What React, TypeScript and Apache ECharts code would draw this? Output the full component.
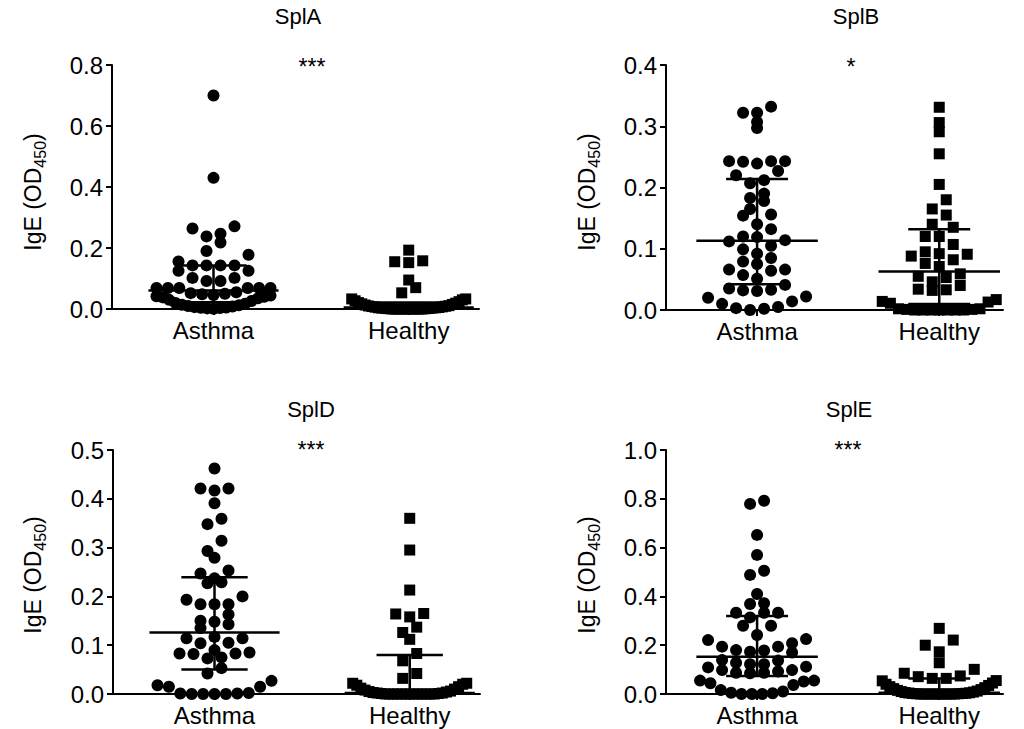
import React, { useEffect, useRef } from "react";
import * as echarts from "echarts";

const groupNames = ["Asthma", "Healthy"];

const splA_asthma = [0.7, 0.43, 0.271, 0.264, 0.247, 0.238, 0.218, 0.19, 0.178, 0.156, 0.143, 0.143, 0.143, 0.143, 0.125, 0.125, 0.102, 0.102, 0.092, 0.092, 0.069, 0.069, 0.069, 0.069, 0.069, 0.069, 0.055, 0.052, 0.05, 0.048, 0.046, 0.044, 0.042, 0.04, 0.038, 0.035, 0.03, 0.026, 0.02, 0.017, 0.014, 0.012, 0.01, 0.008, 0.006, 0.005, 0.004, 0.003, 0.002, 0.001];
const splA_healthy = [0.193, 0.158, 0.155, 0.152, 0.095, 0.07, 0.053, 0.033, 0.033, 0.03, 0.027, 0.024, 0.021, 0.019, 0.017, 0.015, 0.013, 0.011, 0.01, 0.009, 0.008, 0.007, 0.006, 0.005, 0.004, 0.004, 0.003, 0.003, 0.002, 0.002, 0.001, 0.001, 0, 0, 0, 0, 0, 0, 0, 0, 0, 0];

const splB_asthma = [0.332, 0.322, 0.322, 0.307, 0.297, 0.243, 0.243, 0.239, 0.242, 0.243, 0.227, 0.22, 0.207, 0.212, 0.19, 0.183, 0.178, 0.165, 0.154, 0.156, 0.14, 0.132, 0.119, 0.112, 0.114, 0.12, 0.105, 0.092, 0.099, 0.085, 0.075, 0.079, 0.066, 0.057, 0.064, 0.066, 0.051, 0.035, 0.032, 0.031, 0.033, 0.041, 0.02, 0.01, 0.003, 0.0, 0.002, 0.005, 0.014, 0.022];
const splB_healthy = [0.331, 0.306, 0.291, 0.255, 0.205, 0.18, 0.165, 0.155, 0.14, 0.135, 0.12, 0.12, 0.107, 0.092, 0.088, 0.091, 0.095, 0.076, 0.082, 0.071, 0.053, 0.059, 0.055, 0.04, 0.033, 0.032, 0.034, 0.046, 0.017, 0.013, 0.002, 0.011, 0.014, 0, 0, 0, 0, 0, 0, 0, 0.001, 0.001, 0.002];

const splD_asthma = [0.462, 0.421, 0.417, 0.421, 0.391, 0.359, 0.348, 0.314, 0.293, 0.279, 0.253, 0.247, 0.237, 0.227, 0.229, 0.193, 0.2, 0.184, 0.184, 0.184, 0.163, 0.148, 0.15, 0.143, 0.135, 0.114, 0.114, 0.117, 0.105, 0.104, 0.085, 0.083, 0.075, 0.082, 0.073, 0.083, 0.09, 0.053, 0.042, 0.027, 0.015, 0.015, 0.018, 0.002, 0.001, 0.001, 0, 0, 0, 0];
const splD_healthy = [0.36, 0.295, 0.213, 0.165, 0.158, 0.164, 0.137, 0.126, 0.112, 0.083, 0.068, 0.042, 0.032, 0.022, 0.022, 0.02, 0.018, 0.015, 0.012, 0.01, 0.008, 0.006, 0.005, 0.004, 0.003, 0.002, 0.002, 0.001, 0.001, 0, 0, 0, 0, 0, 0, 0, 0, 0, 0, 0, 0, 0];

const splE_asthma = [0.792, 0.779, 0.652, 0.57, 0.488, 0.505, 0.41, 0.369, 0.372, 0.333, 0.314, 0.333, 0.333, 0.28, 0.28, 0.242, 0.225, 0.208, 0.194, 0.178, 0.17, 0.173, 0.18, 0.194, 0.221, 0.137, 0.122, 0.109, 0.098, 0.092, 0.087, 0.085, 0.087, 0.098, 0.112, 0.122, 0.128, 0.139, 0.055, 0.044, 0.016, 0.005, 0, 0, 0, 0.003, 0.01, 0.037, 0.051, 0.055];
const splE_healthy = [0.269, 0.221, 0.2, 0.173, 0.128, 0.101, 0.074, 0.064, 0.064, 0.071, 0.085, 0.055, 0.054, 0.045, 0.04, 0.035, 0.03, 0.026, 0.022, 0.018, 0.015, 0.012, 0.01, 0.008, 0.006, 0.005, 0.004, 0.003, 0.002, 0.002, 0.001, 0.001, 0, 0, 0, 0, 0, 0, 0, 0, 0, 0];

// [median, Q1, Q3]
const splA_stats = [[0.061, 0.022, 0.143], [0.005, 0.0, 0.021]];
const splB_stats = [[0.113, 0.042, 0.214], [0.063, 0.01, 0.132]];
const splD_stats = [[0.126, 0.05, 0.239], [0.002, 0.0, 0.08]];
const splE_stats = [[0.153, 0.074, 0.32], [0.005, 0.0, 0.064]];

const titles = ["SplA", "SplB", "SplD", "SplE"];
const significance = ["***", "*", "***", "***"];
const yMaxes = [0.8, 0.4, 0.5, 1.0];
const ySteps = [0.2, 0.1, 0.1, 0.2];

const panelData = [
  { asthma: splA_asthma, healthy: splA_healthy, stats: splA_stats },
  { asthma: splB_asthma, healthy: splB_healthy, stats: splB_stats },
  { asthma: splD_asthma, healthy: splD_healthy, stats: splD_stats },
  { asthma: splE_asthma, healthy: splE_healthy, stats: splE_stats },
];

// layout (pixels)
const FONT = "Liberation Sans";
const grids = [
  { left: 112, top: 65, width: 367, height: 244, xMin: 0.48, xMax: 2.36 },
  { left: 666, top: 65, width: 337, height: 245, xMin: 0.5, xMax: 2.35 },
  { left: 113, top: 450, width: 367, height: 244, xMin: 0.48, xMax: 2.36 },
  { left: 666, top: 450, width: 337, height: 244, xMin: 0.5, xMax: 2.35 },
];
const titlePos = [[298, 16], [856, 16], [311, 409], [849, 409]];
const starPos = [[312, 67], [851, 67], [311, 450], [848, 450]];
const yNamePos = [[33, 192], [587, 192], [33, 575], [587, 575]];

const ROW_PX = 14;
const STEP_PX = 14;
const MAX_HALF_PX = 57;

function swarm(values: number[], center: number, pxX: number, pxY: number) {
  const rows = new Map<number, number[]>();
  values.forEach((v) => {
    const r = Math.floor((v * pxY) / ROW_PX + 1e-9);
    if (!rows.has(r)) rows.set(r, []);
    rows.get(r)!.push(v);
  });
  const out: number[][] = [];
  rows.forEach((list) => {
    list.sort((a, b) => a - b);
    const n = list.length;
    const s = n > 1 ? Math.min(STEP_PX, (2 * MAX_HALF_PX) / (n - 1)) : 0;
    list.forEach((v, k) => {
      let slot: number;
      if (n % 2 === 1) slot = k === 0 ? 0 : k % 2 === 1 ? -Math.ceil(k / 2) : Math.ceil(k / 2);
      else slot = (k % 2 === 0 ? -1 : 1) * (Math.floor(k / 2) + 0.5);
      out.push([center + (slot * s) / pxX, v]);
    });
  });
  return out;
}

export default function App() {
  const ref = useRef<HTMLDivElement>(null);
  useEffect(() => {
    if (!ref.current) return;
    const chart = echarts.init(ref.current, undefined, { renderer: "svg" });
    const grid: any[] = [];
    const xAxis: any[] = [];
    const yAxis: any[] = [];
    const series: any[] = [];
    const graphic: any[] = [];
    grids.forEach((g, i) => {
      grid.push({ left: g.left, top: g.top, width: g.width, height: g.height });
      xAxis.push({
        type: "value",
        gridIndex: i,
        min: g.xMin,
        max: g.xMax,
        axisLine: { show: true, onZero: false, lineStyle: { color: "#000", width: 2 } },
        axisTick: { show: true, customValues: [1, 2], length: 6, lineStyle: { color: "#000", width: 2 } },
        axisLabel: {
          customValues: [1, 2],
          formatter: (v: number) => groupNames[Math.round(v) - 1] || "",
          color: "#000",
          fontSize: 24,
          fontFamily: FONT,
          margin: 9,
        },
        splitLine: { show: false },
      });
      yAxis.push({
        type: "value",
        gridIndex: i,
        min: 0,
        max: yMaxes[i],
        interval: ySteps[i],
        axisLine: { show: true, lineStyle: { color: "#000", width: 2 } },
        axisTick: { show: true, length: 6, lineStyle: { color: "#000", width: 2 } },
        axisLabel: {
          formatter: (v: number) => v.toFixed(1),
          color: "#000",
          fontSize: 24,
          fontFamily: FONT,
          margin: 9,
        },
        splitLine: { show: false },
      });
      const pxX = g.width / (g.xMax - g.xMin);
      const pxY = g.height / yMaxes[i];
      const d = panelData[i];
      series.push({
        type: "scatter",
        xAxisIndex: i,
        yAxisIndex: i,
        symbol: "circle",
        symbolSize: 12,
        itemStyle: { color: "#000", opacity: 1 },
        data: swarm(d.asthma, 1, pxX, pxY),
        z: 3,
      });
      series.push({
        type: "scatter",
        xAxisIndex: i,
        yAxisIndex: i,
        symbol: "rect",
        symbolSize: 11,
        itemStyle: { color: "#000", opacity: 1 },
        data: swarm(d.healthy, 2, pxX, pxY),
        z: 3,
      });
      series.push({
        type: "custom",
        xAxisIndex: i,
        yAxisIndex: i,
        z: 4,
        clip: false,
        encode: { x: 0, y: [1, 2, 3] },
        data: d.stats.map((s, k) => [k + 1, s[0], s[1], s[2]]),
        renderItem: (params: any, api: any) => {
          const x = api.value(0);
          const med = api.value(1);
          const q1 = api.value(2);
          const q3 = api.value(3);
          const st = { stroke: "#000", lineWidth: 2.5 };
          const seg = (a: number[], b: number[]) => {
            const p1 = api.coord(a);
            const p2 = api.coord(b);
            return { type: "line", shape: { x1: p1[0], y1: p1[1], x2: p2[0], y2: p2[1] }, style: st };
          };
          return {
            type: "group",
            children: [
              seg([x - 1 / 3, med], [x + 1 / 3, med]),
              seg([x, q1], [x, q3]),
              seg([x - 0.17, q1], [x + 0.17, q1]),
              seg([x - 0.17, q3], [x + 0.17, q3]),
            ],
          };
        },
      });
      graphic.push({
        type: "text",
        x: titlePos[i][0],
        y: titlePos[i][1],
        style: { text: titles[i], fill: "#000", fontSize: 22, fontFamily: FONT, align: "center", verticalAlign: "middle" },
      });
      graphic.push({
        type: "text",
        x: starPos[i][0],
        y: starPos[i][1],
        style: { text: significance[i], fill: "#000", fontSize: 23, fontFamily: FONT, align: "center", verticalAlign: "middle" },
      });
      graphic.push({
        type: "text",
        x: yNamePos[i][0],
        y: yNamePos[i][1],
        rotation: Math.PI / 2,
        style: {
          text: "{a|IgE (OD}{b|450}{a|)}",
          align: "center",
          verticalAlign: "middle",
          rich: {
            a: { fill: "#000", fontSize: 23, fontFamily: FONT },
            b: { fill: "#000", fontSize: 16, fontFamily: FONT, padding: [14, 0, 0, 0] },
          },
        },
      });
    });
    chart.setOption({
      animation: false,
      backgroundColor: "#fff",
      grid,
      xAxis,
      yAxis,
      series,
      graphic,
    });
    return () => chart.dispose();
  }, []);
  return <div ref={ref} style={{ position: "fixed", left: 0, top: 0, width: 1024, height: 729 }} />;
}
